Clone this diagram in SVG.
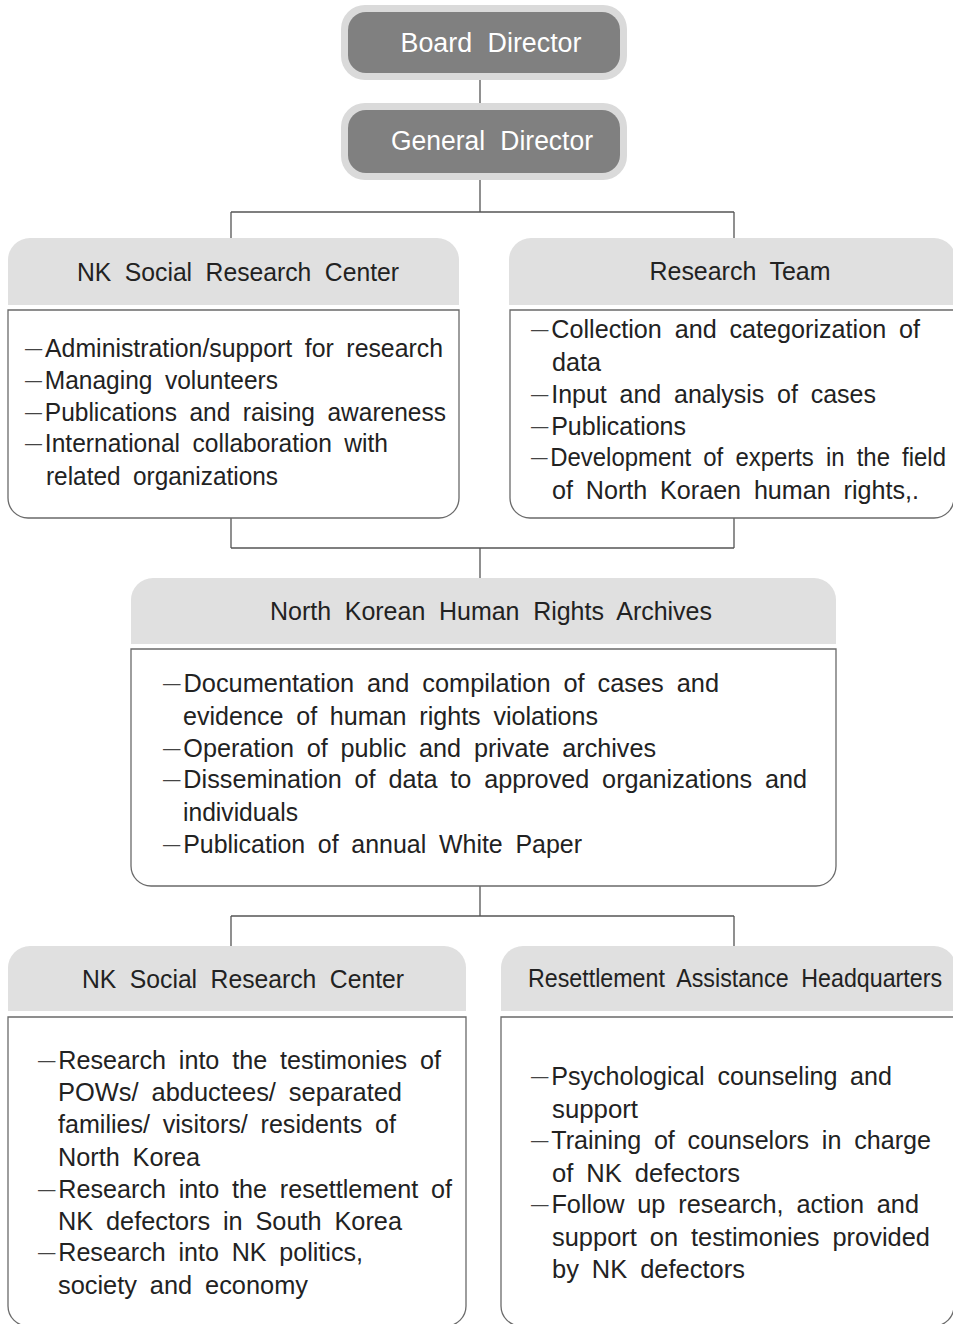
<svg xmlns="http://www.w3.org/2000/svg" width="953" height="1324" viewBox="0 0 953 1324">
<style>
.bg{fill:#ffffff}
.top-out{fill:#dadada}
.top-in{fill:#808080}
.top-t{font-family:"Liberation Sans",Arial,sans-serif;font-size:27px;fill:#ffffff;word-spacing:8px;text-anchor:middle}
.hd{fill:#e0e0e0}
.bd{fill:#ffffff;stroke:#6a6a6a;stroke-width:1.3}
.ht{font-family:"Liberation Sans",Arial,sans-serif;font-size:26px;fill:#222;word-spacing:7px;text-anchor:middle}
.t{font-family:"Liberation Sans",Arial,sans-serif;font-size:26px;fill:#222;word-spacing:6px}
.d{font-size:18px;baseline-shift:3px;fill:#444}
.c{stroke:#555;stroke-width:1.3;fill:none}
</style>
<rect class="bg" x="0" y="0" width="953" height="1324"/>

<g id="connectors">
<path class="c" d="M480,80 V103"/>
<path class="c" d="M480,180 V212 M231,212 H734 M231,212 V239 M734,212 V239"/>
<path class="c" d="M231,518 V548 M734,518 V548 M231,548 H734 M480,548 V578"/>
<path class="c" d="M480,886 V916 M231,916 H734 M231,916 V946 M734,916 V946"/>
</g>

<g id="board-director">
<rect class="top-out" x="341" y="5" width="286" height="75" rx="24"/>
<rect class="top-in" x="348" y="12" width="272" height="61" rx="18"/>
<text class="top-t" x="491" y="52" textLength="181" lengthAdjust="spacingAndGlyphs">Board Director</text>
</g>

<g id="general-director">
<rect class="top-out" x="341" y="103" width="286" height="77" rx="24"/>
<rect class="top-in" x="348" y="110" width="272" height="63" rx="18"/>
<text class="top-t" x="492" y="150" textLength="202" lengthAdjust="spacingAndGlyphs">General Director</text>
</g>

<g id="nk-social-research-center-1">
<path class="hd" d="M8,305 V260 A22,22 0 0 1 30,238 H437 A22,22 0 0 1 459,260 V305 Z"/>
<path class="bd" d="M8,310 H459 V498 A20,20 0 0 1 439,518 H28 A20,20 0 0 1 8,498 Z"/>
<text class="ht" x="238" y="281" textLength="322" lengthAdjust="spacingAndGlyphs">NK Social Research Center</text>
<text class="t" x="25" y="357" textLength="418" lengthAdjust="spacingAndGlyphs"><tspan class="d">—</tspan><tspan dx="3">Administration/support for research</tspan></text>
<text class="t" x="25" y="389" textLength="253" lengthAdjust="spacingAndGlyphs"><tspan class="d">—</tspan><tspan dx="3">Managing volunteers</tspan></text>
<text class="t" x="25" y="421" textLength="421" lengthAdjust="spacingAndGlyphs"><tspan class="d">—</tspan><tspan dx="3">Publications and raising awareness</tspan></text>
<text class="t" x="25" y="452" textLength="363" lengthAdjust="spacingAndGlyphs"><tspan class="d">—</tspan><tspan dx="3">International collaboration with</tspan></text>
<text class="t" x="46" y="485" textLength="232" lengthAdjust="spacingAndGlyphs">related organizations</text>
</g>

<g id="research-team">
<path class="hd" d="M509,305 V260 A22,22 0 0 1 531,238 H934 A22,22 0 0 1 956,260 V305 Z"/>
<path class="bd" d="M510,310 H954 V498 A20,20 0 0 1 934,518 H530 A20,20 0 0 1 510,498 Z"/>
<text class="ht" x="740" y="280" textLength="181" lengthAdjust="spacingAndGlyphs">Research Team</text>
<text class="t" x="531" y="338" textLength="389" lengthAdjust="spacingAndGlyphs"><tspan class="d">—</tspan><tspan dx="3">Collection and categorization of</tspan></text>
<text class="t" x="552" y="371" textLength="49" lengthAdjust="spacingAndGlyphs">data</text>
<text class="t" x="531" y="403" textLength="345" lengthAdjust="spacingAndGlyphs"><tspan class="d">—</tspan><tspan dx="3">Input and analysis of cases</tspan></text>
<text class="t" x="531" y="435" textLength="155" lengthAdjust="spacingAndGlyphs"><tspan class="d">—</tspan><tspan dx="3">Publications</tspan></text>
<text class="t" x="531" y="466" textLength="415" lengthAdjust="spacingAndGlyphs"><tspan class="d">—</tspan><tspan dx="3">Development of experts in the field</tspan></text>
<text class="t" x="552" y="499" textLength="367" lengthAdjust="spacingAndGlyphs">of North Koraen human rights,.</text>
</g>

<g id="nk-human-rights-archives">
<path class="hd" d="M131,644 V600 A22,22 0 0 1 153,578 H814 A22,22 0 0 1 836,600 V644 Z"/>
<path class="bd" d="M131,649 H836 V866 A20,20 0 0 1 816,886 H151 A20,20 0 0 1 131,866 Z"/>
<text class="ht" x="491" y="620" textLength="442" lengthAdjust="spacingAndGlyphs">North Korean Human Rights Archives</text>
<text class="t" x="163" y="692" textLength="556" lengthAdjust="spacingAndGlyphs"><tspan class="d">—</tspan><tspan dx="3">Documentation and compilation of cases and</tspan></text>
<text class="t" x="183" y="725" textLength="415" lengthAdjust="spacingAndGlyphs">evidence of human rights violations</text>
<text class="t" x="163" y="757" textLength="493" lengthAdjust="spacingAndGlyphs"><tspan class="d">—</tspan><tspan dx="3">Operation of public and private archives</tspan></text>
<text class="t" x="163" y="788" textLength="644" lengthAdjust="spacingAndGlyphs"><tspan class="d">—</tspan><tspan dx="3">Dissemination of data to approved organizations and</tspan></text>
<text class="t" x="183" y="821" textLength="115" lengthAdjust="spacingAndGlyphs">individuals</text>
<text class="t" x="163" y="853" textLength="419" lengthAdjust="spacingAndGlyphs"><tspan class="d">—</tspan><tspan dx="3">Publication of annual White Paper</tspan></text>
</g>

<g id="nk-social-research-center-2">
<path class="hd" d="M8,1011 V968 A22,22 0 0 1 30,946 H444 A22,22 0 0 1 466,968 V1011 Z"/>
<path class="bd" d="M8,1017 H466 V1306 A20,20 0 0 1 446,1326 H28 A20,20 0 0 1 8,1306 Z"/>
<text class="ht" x="243" y="988" textLength="322" lengthAdjust="spacingAndGlyphs">NK Social Research Center</text>
<text class="t" x="38" y="1069" textLength="403" lengthAdjust="spacingAndGlyphs"><tspan class="d">—</tspan><tspan dx="3">Research into the testimonies of</tspan></text>
<text class="t" x="58" y="1101" textLength="344" lengthAdjust="spacingAndGlyphs">POWs/ abductees/ separated</text>
<text class="t" x="58" y="1133" textLength="338" lengthAdjust="spacingAndGlyphs">families/ visitors/ residents of</text>
<text class="t" x="58" y="1166" textLength="142" lengthAdjust="spacingAndGlyphs">North Korea</text>
<text class="t" x="38" y="1198" textLength="414" lengthAdjust="spacingAndGlyphs"><tspan class="d">—</tspan><tspan dx="3">Research into the resettlement of</tspan></text>
<text class="t" x="58" y="1230" textLength="344" lengthAdjust="spacingAndGlyphs">NK defectors in South Korea</text>
<text class="t" x="38" y="1261" textLength="325" lengthAdjust="spacingAndGlyphs"><tspan class="d">—</tspan><tspan dx="3">Research into NK politics,</tspan></text>
<text class="t" x="58" y="1294" textLength="250" lengthAdjust="spacingAndGlyphs">society and economy</text>
</g>

<g id="resettlement-assistance-hq">
<path class="hd" d="M501,1011 V968 A22,22 0 0 1 523,946 H934 A22,22 0 0 1 956,968 V1011 Z"/>
<path class="bd" d="M501,1017 H954 V1306 A20,20 0 0 1 934,1326 H521 A20,20 0 0 1 501,1306 Z"/>
<text class="ht" x="735" y="987" textLength="414" lengthAdjust="spacingAndGlyphs">Resettlement Assistance Headquarters</text>
<text class="t" x="531" y="1085" textLength="361" lengthAdjust="spacingAndGlyphs"><tspan class="d">—</tspan><tspan dx="3">Psychological counseling and</tspan></text>
<text class="t" x="552" y="1118" textLength="86" lengthAdjust="spacingAndGlyphs">support</text>
<text class="t" x="531" y="1149" textLength="400" lengthAdjust="spacingAndGlyphs"><tspan class="d">—</tspan><tspan dx="3">Training of counselors in charge</tspan></text>
<text class="t" x="552" y="1182" textLength="188" lengthAdjust="spacingAndGlyphs">of NK defectors</text>
<text class="t" x="531" y="1213" textLength="388" lengthAdjust="spacingAndGlyphs"><tspan class="d">—</tspan><tspan dx="3">Follow up research, action and</tspan></text>
<text class="t" x="552" y="1246" textLength="378" lengthAdjust="spacingAndGlyphs">support on testimonies provided</text>
<text class="t" x="552" y="1278" textLength="193" lengthAdjust="spacingAndGlyphs">by NK defectors</text>
</g>
</svg>
